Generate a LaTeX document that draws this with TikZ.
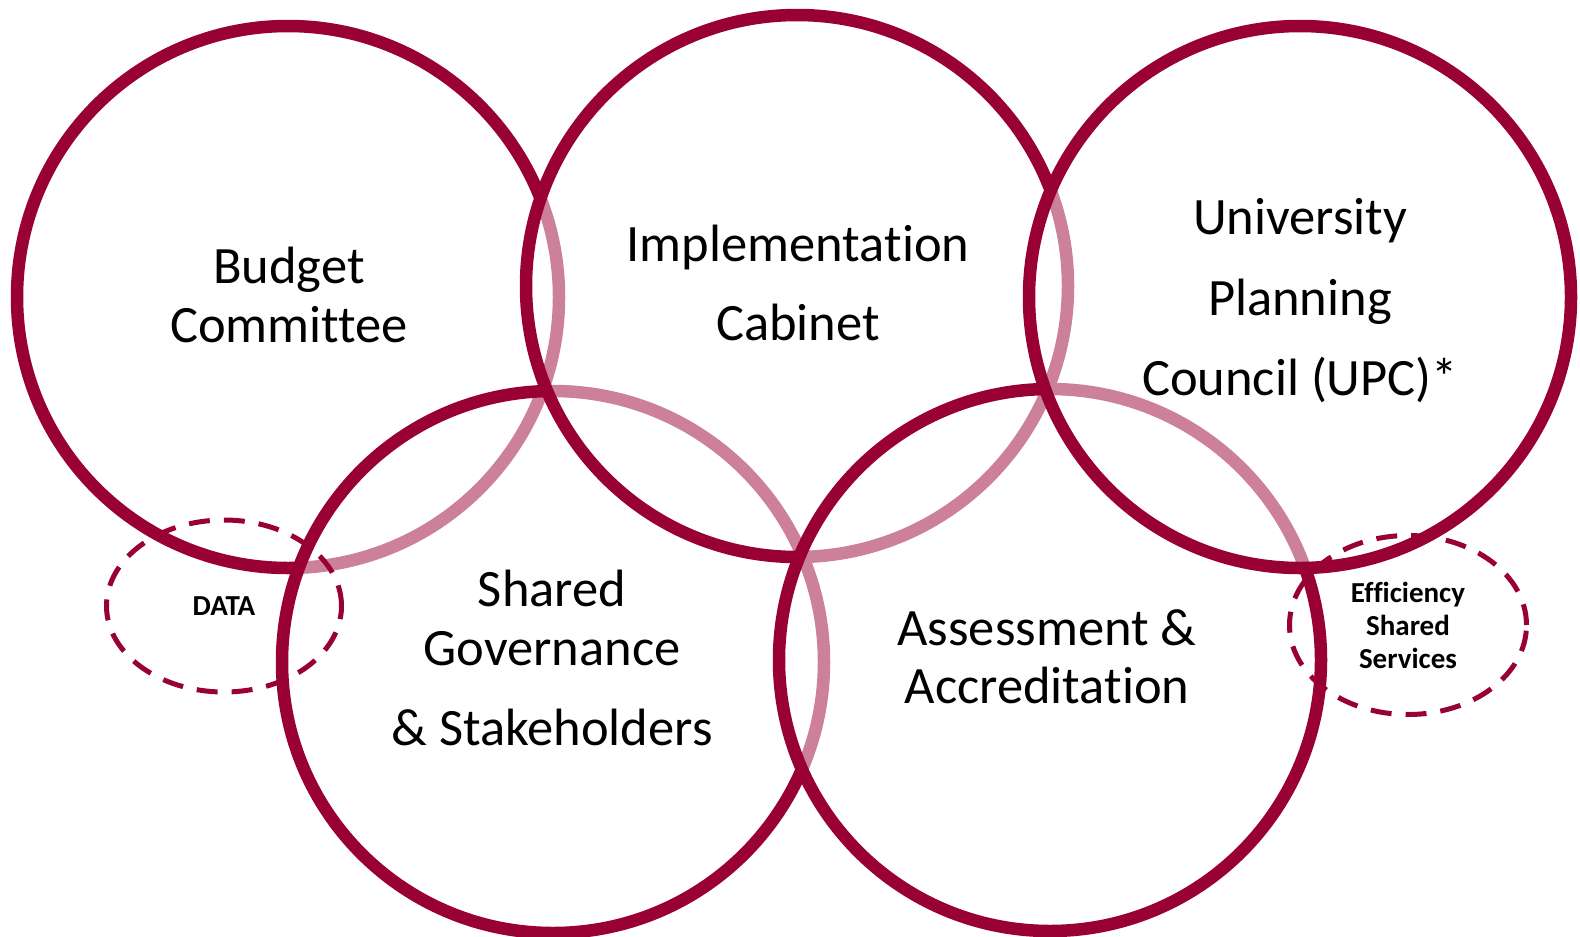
\documentclass[tikz,border=0pt]{standalone}
\usepackage{fontspec}
\setmainfont{Carlito}[Ligatures=NoCommon]
\usetikzlibrary{shapes.geometric}
\definecolor{maroon}{RGB}{153,0,51}
\tikzstyle{ring} = [circle, draw=maroon, line width=12.5pt, fill=white, fill opacity=0.5, minimum size=542pt, inner sep=0pt]
\tikzstyle{extra} = [ellipse, draw=maroon, line width=5pt, dash pattern=on 21pt off 14pt, inner sep=0pt, align=center, font=\fontsize{29}{33}\selectfont\bfseries]
\tikzstyle{lbl} = [align=center, font=\fontsize{52.5}{58.5}\selectfont]

\begin{document}
\begin{tikzpicture}[x=1pt, y=-1pt]
\useasboundingbox (0,0) rectangle (1580,937);

% rings, from back to front
\node (budget) [ring] at (288,297) {};
\node (shared) [ring] at (553,662) {};
\node (impl) [ring] at (797,286) {};
\node (assess) [ring] at (1050,660) {};
\node (upc) [ring] at (1300,297) {};

% dashed side groups
\node (data) [extra, minimum width=235pt, minimum height=172pt] at (224,606) {DATA};
\node (eff) [extra, minimum width=237pt, minimum height=179pt] at (1408,625) {Efficiency\\Shared\\Services};

% ring labels
\node (budgettxt) [lbl] at (289,295) {Budget\\Committee};
\node (impltxt) [lbl] at (798,283) {Implementation\\[20.5pt]Cabinet};
\node (upctxt) [lbl] at (1300,301) {University\\[22pt]Planning\\[22pt]Council (UPC)*};
\node (sharedtxt) [lbl] at (552,658) {Shared\\Governance\\[22pt]\& Stakeholders};
\node (assesstxt) [lbl] at (1047,657) {Assessment \&\\Accreditation};
\end{tikzpicture}
\end{document}
